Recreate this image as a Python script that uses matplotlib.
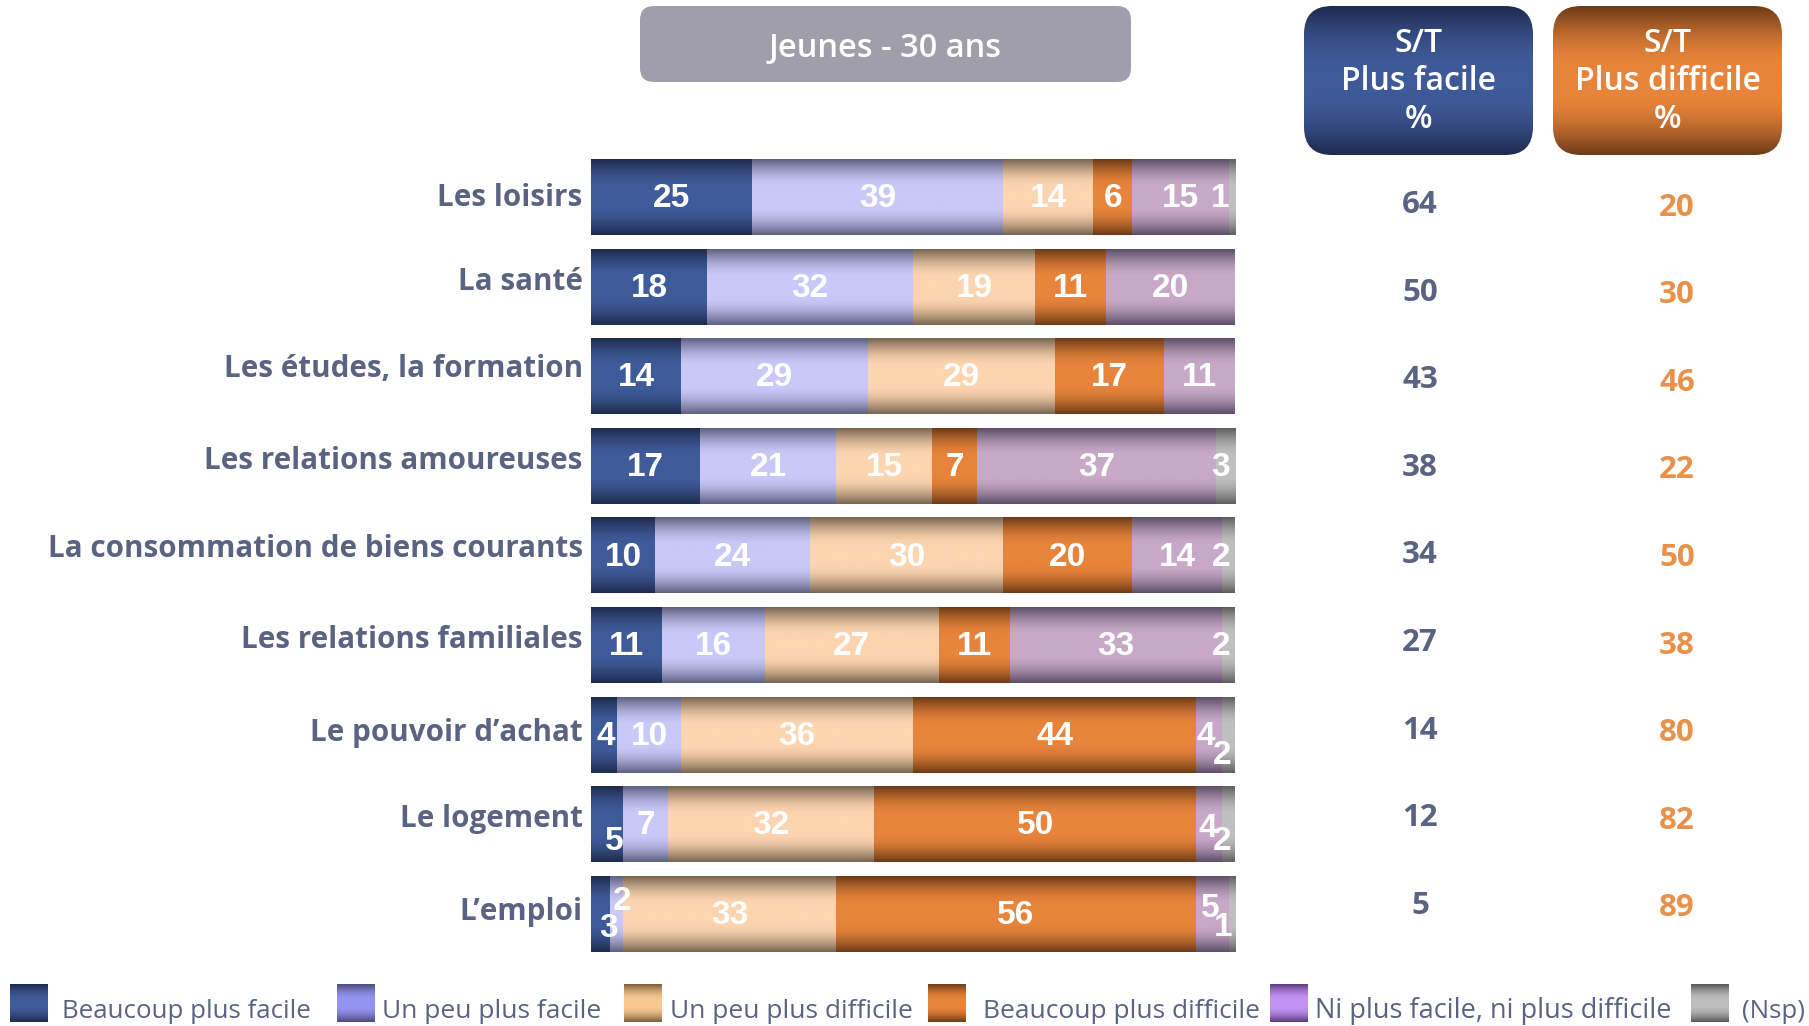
import numpy as np
import matplotlib
matplotlib.use("Agg")
import matplotlib.pyplot as plt
from matplotlib.patches import FancyBboxPatch
from matplotlib.colors import to_rgb
import matplotlib.transforms as mtransforms

# ---------------- data ----------------
categories = ["Les loisirs", "La santé", "Les études, la formation",
              "Les relations amoureuses", "La consommation de biens courants",
              "Les relations familiales", "Le pouvoir d’achat", "Le logement",
              "L’emploi"]
beaucoup_facile = [25, 18, 14, 17, 10, 11, 4, 5, 3]
peu_facile = [39, 32, 29, 21, 24, 16, 10, 7, 2]
peu_difficile = [14, 19, 29, 15, 30, 27, 36, 32, 33]
beaucoup_difficile = [6, 11, 17, 7, 20, 11, 44, 50, 56]
ni_ni = [15, 20, 11, 37, 14, 33, 4, 4, 5]
nsp = [1, 0, 0, 3, 2, 2, 2, 2, 1]
st_facile = [64, 50, 43, 38, 34, 27, 14, 12, 5]
st_difficile = [20, 30, 46, 22, 50, 38, 80, 82, 89]
series_names = ["Beaucoup plus facile", "Un peu plus facile",
                "Un peu plus difficile", "Beaucoup plus difficile",
                "Ni plus facile, ni plus difficile", "(Nsp)"]
title_text = "Jeunes - 30 ans"
header_facile = "S/T\nPlus facile\n%"
header_difficile = "S/T\nPlus difficile\n%"

# ---------------- style ----------------
W, H = 1809, 1026
DPI = 100
TEXT_COL = "#5a6482"
ORANGE_TXT = "#e8914a"
bar_grad = [("#1e2a4c", "#3f5b9a"), ("#5e6080", "#c9c9f9"),
            ("#786550", "#fdd5b0"), ("#6c3a16", "#e8843b"),
            ("#5c4e66", "#c8a9c8"), ("#5e5e5e", "#c0c0c0")]
legend_grad = [("#1e2a4c", "#3f5b9a"), ("#4a4a78", "#9494f4"),
               ("#785a3a", "#fac890"), ("#6c3a16", "#e8843b"),
               ("#5a3a7c", "#c494f4"), ("#555555", "#bdbdbd")]
# label nudges: (row, series) -> (dx in %, dy in px; + = down)
nudges = {(0, 5): (-1.8, 0), (3, 5): (-0.7, 0), (4, 5): (-1.2, 0),
          (5, 5): (-1.2, 0), (6, 0): (0.3, 0), (6, 4): (-0.6, 0),
          (6, 5): (-1.0, 19), (7, 0): (1.1, 16), (7, 4): (-0.3, 3),
          (7, 5): (-1.0, 16), (8, 0): (1.2, 13), (8, 1): (0.8, -14),
          (8, 4): (-0.3, -7), (8, 5): (-1.4, 12)}
# category label vertical nudges (px, + = down)
cat_dy = [1, -5, -7, -5, -6, -5, -2, -5, -2]
# S/T column positions (figure px)
st_x_facile, st_x_difficile = 1420, 1677
st_y0_facile, st_y0_difficile, st_step = 205.0, 207.5, 87.6

UI_FONT = ["Open Sans", "DejaVu Sans"]
NUM_FONT = ["Liberation Sans Narrow", "Liberation Sans", "DejaVu Sans"]


def profile(n=256, ramp=0.38):
    t = np.linspace(0, 1, n)
    f = np.minimum(1, np.minimum(t / ramp, (1 - t) / ramp))
    return np.sin(f * np.pi / 2)


def grad_img(edge, centre, ramp=0.38):
    f = profile(ramp=ramp)[:, None]
    e = np.array(to_rgb(edge))
    c = np.array(to_rgb(centre))
    img = e[None, :] * (1 - f) + c[None, :] * f
    return img[:, None, :]


fig = plt.figure(figsize=(W / DPI, H / DPI), dpi=DPI)
fig.patch.set_facecolor("white")

ov = fig.add_axes([0, 0, 1, 1])
ov.set_xlim(0, W)
ov.set_ylim(H, 0)
ov.axis("off")
ov.set_zorder(0)

row_top, row_step = 197.0, 89.6
n = len(categories)
ax_top = row_top - row_step / 2
ax_bot = row_top + row_step * (n - 1) + row_step / 2
x0_px, x1_px = 591, 1235
ax = fig.add_axes([x0_px / W, 1 - ax_bot / H, (x1_px - x0_px) / W,
                   (ax_bot - ax_top) / H])
ax.axis("off")
ax.set_zorder(1)

series = [beaucoup_facile, peu_facile, peu_difficile, beaucoup_difficile,
          ni_ni, nsp]
ypos = np.arange(n)
bar_h = 76 / row_step
left = np.zeros(n)
for si, vals in enumerate(series):
    vals = np.array(vals, dtype=float)
    bars = ax.barh(ypos, vals, left=left, height=bar_h, color="none",
                   edgecolor="none")
    edge, centre = bar_grad[si]
    img = grad_img(edge, centre)
    for ri, patch in enumerate(bars.patches):
        if vals[ri] <= 0:
            continue
        bx, by = patch.get_x(), patch.get_y()
        bw, bh = patch.get_width(), patch.get_height()
        im = ax.imshow(img, extent=[bx, bx + bw, by + bh, by],
                       aspect="auto", interpolation="bicubic", zorder=2)
        im.set_clip_path(patch)
        cx = bx + bw / 2
        dx, dy = nudges.get((ri, si), (0, 0))
        tr = ax.transData + mtransforms.ScaledTranslation(
            0, -dy / DPI, fig.dpi_scale_trans)
        ax.text(cx + dx, ypos[ri] + 0.02, f"{int(vals[ri])}", color="white",
                ha="center", va="center", fontsize=24, fontweight="bold",
                family=NUM_FONT, transform=tr, zorder=4)
    left = left + vals
ax.set_xlim(0, 100)
ax.set_ylim(n - 0.5, -0.5)

# category labels
for ri, cat in enumerate(categories):
    tr = ax.transData + mtransforms.ScaledTranslation(
        0, -cat_dy[ri] / DPI, fig.dpi_scale_trans)
    ax.text(-1.3, ypos[ri], cat, ha="right", va="center", transform=tr,
            fontsize=21.3, fontweight="bold", color=TEXT_COL, family=UI_FONT,
            clip_on=False)

# S/T value columns
for ri in range(n):
    ov.text(st_x_facile, st_y0_facile + ri * st_step, f"{st_facile[ri]}",
            ha="center", va="center", fontsize=22.5, fontweight="bold",
            color=TEXT_COL, family=UI_FONT)
    ov.text(st_x_difficile, st_y0_difficile + ri * st_step,
            f"{st_difficile[ri]}", ha="center", va="center", fontsize=22.5,
            fontweight="bold", color=ORANGE_TXT, family=UI_FONT)

# title box
tb = FancyBboxPatch((640, 6), 491, 76,
                    boxstyle="round,pad=0,rounding_size=14",
                    facecolor="#a09eab", edgecolor="none", zorder=2)
ov.add_patch(tb)
ov.text(885, 48.5, title_text, ha="center", va="center", color="white",
        fontsize=23.5, fontweight="semibold", family=UI_FONT, zorder=3)

# header boxes with gradient
for (bx, txt, (e, c)) in [(1304, header_facile, ("#1f2a4e", "#3f5a98")),
                          (1553, header_difficile, ("#6c3a16", "#e8843b"))]:
    hb = FancyBboxPatch((bx, 6), 229, 149,
                        boxstyle="round,pad=0,rounding_size=28",
                        facecolor="none", edgecolor="none", zorder=2)
    ov.add_patch(hb)
    im = ov.imshow(grad_img(e, c, ramp=0.42), extent=[bx, bx + 229, 155, 6],
                   aspect="auto", interpolation="bicubic", zorder=2)
    im.set_clip_path(hb)
    ov.text(bx + 229 / 2, 82, txt, ha="center", va="center", color="white",
            fontsize=23, fontweight="semibold", family=UI_FONT,
            linespacing=1.2, zorder=3)

# legend
leg_sq_x = [10, 337, 624, 928, 1270, 1691]
leg_tx_x = [62, 382, 670, 983, 1315, 1742]
leg_fs = [18.6, 19, 19, 19, 19.5, 18.6]
for i, name in enumerate(series_names):
    sx = leg_sq_x[i]
    e, c = legend_grad[i]
    ov.imshow(grad_img(e, c, ramp=0.42), extent=[sx, sx + 38, 1022, 984],
              aspect="auto", interpolation="bicubic", zorder=2)
    ov.text(leg_tx_x[i], 1011, name, ha="left", va="center", color=TEXT_COL,
            fontsize=leg_fs[i], family=UI_FONT, zorder=3)
ov.set_xlim(0, W)
ov.set_ylim(H, 0)

fig.savefig("out.png", dpi=DPI, facecolor="white")
